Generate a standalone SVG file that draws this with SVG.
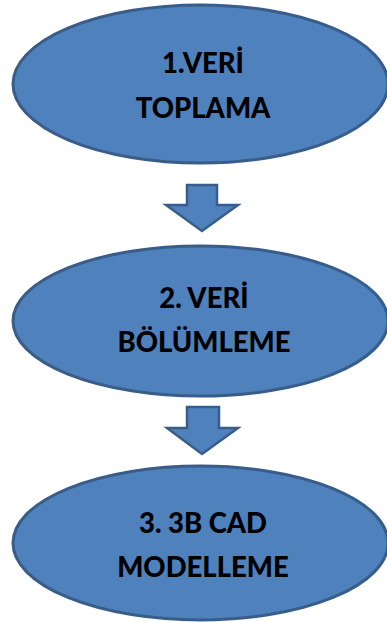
<svg xmlns="http://www.w3.org/2000/svg" width="387" height="622" viewBox="0 0 387 622">
  <style>
    .step { fill: #4F81BD; stroke: #385D8A; stroke-width: 3; }
    .arrow { fill: #4F81BD; stroke: #385D8A; stroke-width: 2.5; stroke-linejoin: miter; }
    .label { font-family: Lato, "Open Sans", "Liberation Sans", sans-serif; font-weight: 900; font-size: 27.5px; fill: #000; text-anchor: middle; }
  </style>
  <rect width="387" height="622" fill="#FFFFFF"/>

  <g id="step1">
    <ellipse class="step" cx="200.5" cy="84" rx="187.5" ry="79"/>
    <text class="label" x="203" y="73">1.VERİ</text>
    <text class="label" x="203" y="118">TOPLAMA</text>
  </g>

  <g id="step2">
    <ellipse class="step" cx="200.5" cy="321" rx="187.5" ry="75"/>
    <text class="label" x="204" y="308">2. VERİ</text>
    <text class="label" x="204" y="352">BÖLÜMLEME</text>
  </g>

  <g id="step3">
    <ellipse class="step" cx="200.5" cy="543" rx="187.5" ry="77"/>
    <text class="label" x="203" y="533">3. 3B CAD</text>
    <text class="label" x="203" y="577">MODELLEME</text>
  </g>

  <g id="connectors">
    <polygon class="arrow" points="187,185 217,185 217,205 238,205 202,231 166,205 187,205"/>
    <polygon class="arrow" points="187,407 219,407 219,428 238,428 202,454 167,428 187,428"/>
  </g>
</svg>
